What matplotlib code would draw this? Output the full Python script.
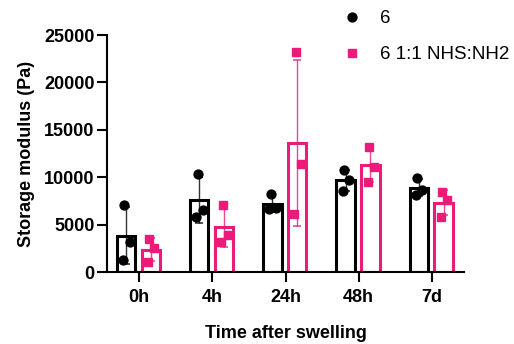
import numpy as np
import matplotlib
matplotlib.use("Agg")
import matplotlib.pyplot as plt

plt.rcParams['font.family'] = ['Liberation Sans', 'DejaVu Sans']

categories = ["0h", "4h", "24h", "48h", "7d"]
series_names = ["6", "6 1:1 NHS:NH2"]
vals_6 = [
    [7100, 3200, 1250],
    [10350, 6550, 5850],
    [8200, 6750, 6700],
    [10750, 9700, 8550],
    [9900, 8650, 8150],
]
vals_nhs = [
    [3500, 2500, 1100],
    [7050, 3900, 3200],
    [23250, 11450, 6100],
    [13200, 11100, 9550],
    [8450, 7600, 5850],
]
yticks = [0, 5000, 10000, 15000, 20000, 25000]

black = "#000000"
pink = "#EC1A78"

fig = plt.figure(figsize=(5.14, 3.44), dpi=100)
ax = fig.add_axes([0.208, 0.209, 0.695, 0.689])

x = np.arange(len(categories))
bw = 0.25
offs = [-0.18, 0.16]
jit = [-0.02, 0.05, -0.04]

for si, (data, col, mk, ms) in enumerate([(vals_6, black, 'o', 6.4), (vals_nhs, pink, 's', 5.4)]):
    arr = np.array(data, dtype=float)
    means = arr.mean(axis=1)
    sds = arr.std(axis=1, ddof=1)
    xp = x + offs[si]
    ax.bar(xp, means, width=bw, facecolor='white', edgecolor=col, linewidth=2.2, zorder=2)
    ax.errorbar(xp, means, yerr=sds, fmt='none', ecolor=col, elinewidth=1.0,
                capsize=3, capthick=1.2, zorder=3, alpha=0.8)
    for i in range(len(categories)):
        ax.plot(xp[i] + np.array(jit), arr[i], linestyle='none', marker=mk,
                color=col, markersize=ms, zorder=4, clip_on=False)
    ax.plot([], [], linestyle='none', marker=mk, color=col, markersize=ms,
            label=series_names[si])

ax.set_xlim(-0.44, 4.44)
ax.set_ylim(0, 25000)
ax.set_yticks(yticks)
ax.set_yticklabels([str(t) for t in yticks], fontsize=13, fontweight='bold')
ax.set_xticks(x)
ax.set_xticklabels(categories, fontsize=13, fontweight='bold')
ax.set_ylabel("Storage modulus (Pa)", fontsize=13, fontweight='bold', labelpad=6.5)
ax.set_xlabel("Time after swelling", fontsize=13, fontweight='bold', labelpad=13.5)

for s in ['top', 'right']:
    ax.spines[s].set_visible(False)
for s in ['left', 'bottom']:
    ax.spines[s].set_linewidth(1.5)
ax.tick_params(axis='both', width=1.5, length=7, direction='out', pad=2)
ax.tick_params(axis='x', pad=5)

leg = fig.legend(loc='upper left', bbox_to_anchor=(0.667, 0.970), frameon=False,
                 fontsize=13.5, handlelength=1.0, handletextpad=1.0,
                 labelspacing=1.0, borderaxespad=0, borderpad=0)

fig.savefig("out.png", dpi=100)
